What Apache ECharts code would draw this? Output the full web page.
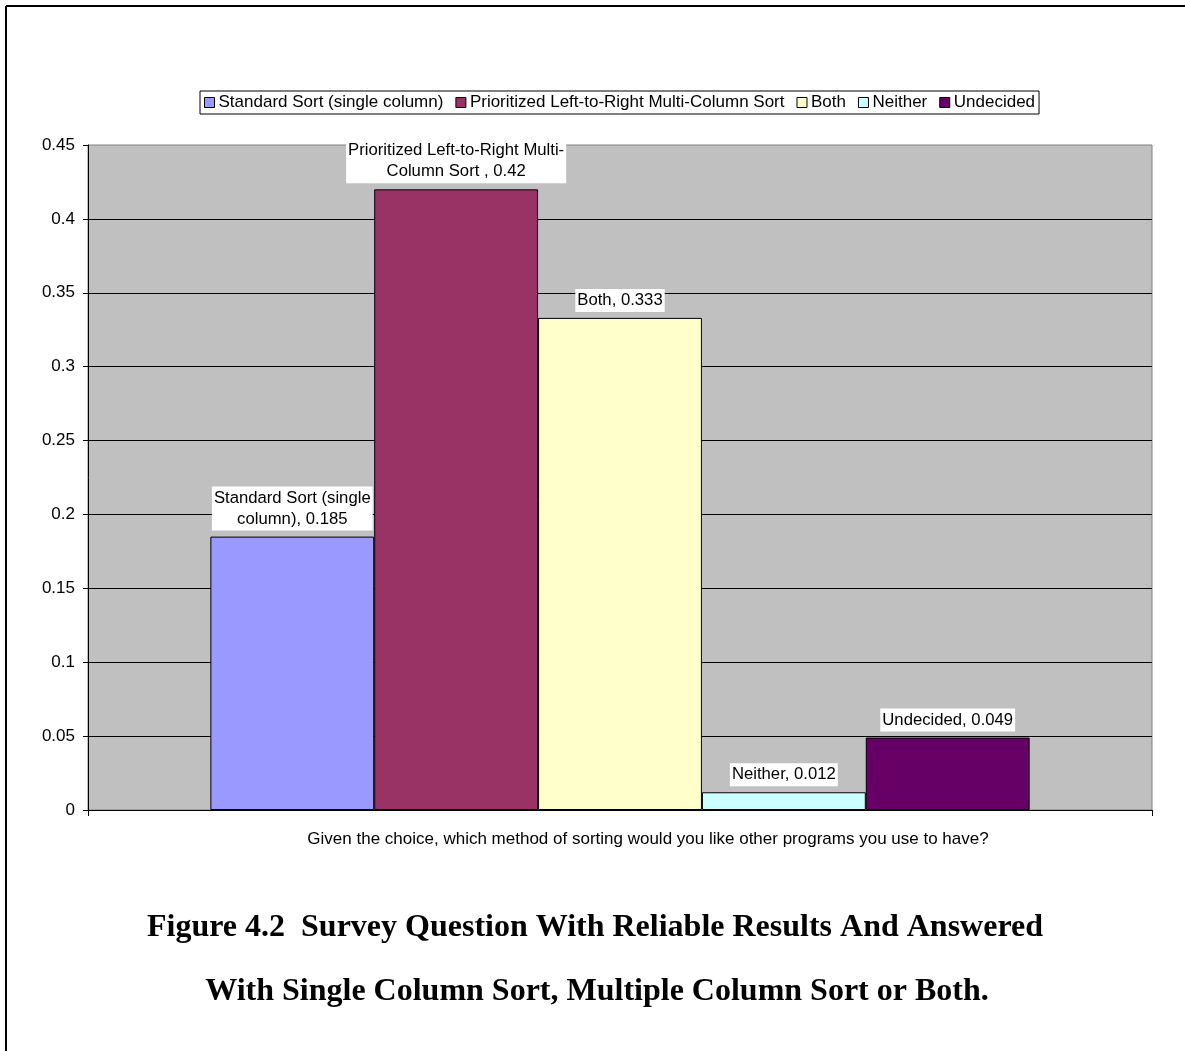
<!DOCTYPE html>
<html>
<head>
<meta charset="utf-8">
<style>
  html, body { margin: 0; padding: 0; background: #fff; }
  #chart { width: 1185px; height: 1051px; }
</style>
<script src="https://cdn.jsdelivr.net/npm/echarts@6/dist/echarts.min.js"></script>
</head>
<body>
<div id="chart"></div>
<script>
// Survey answers: share of respondents for each preferred sorting method
const seriesNames = [
  'Standard Sort (single column)',
  'Prioritized Left-to-Right Multi-Column Sort',
  'Both',
  'Neither',
  'Undecided'
];
const labelNames = [
  'Standard Sort (single\ncolumn)',
  'Prioritized Left-to-Right Multi-\nColumn Sort ',
  'Both',
  'Neither',
  'Undecided'
];
const values = [0.185, 0.42, 0.333, 0.012, 0.049];
const categories = [''];
const axisTitle = 'Given the choice, which method of sorting would you like other programs you use to have?';
const captionLines = [
  'Figure 4.2  Survey Question With Reliable Results And Answered',
  'With Single Column Sort, Multiple Column Sort or Both.'
];

const barColors = ['#9999FF', '#993366', '#FFFFCC', '#CCFFFF', '#660066'];
const sans = '"Liberation Sans", Arial, sans-serif';
const serif = '"Liberation Serif", "Times New Roman", serif';

const chart = echarts.init(document.getElementById('chart'), null, { renderer: 'canvas' });

const series = seriesNames.map((name, i) => ({
  name: name,
  type: 'bar',
  data: [values[i]],
  barGap: '0%',
  barCategoryGap: '23%',
  itemStyle: { color: barColors[i], borderColor: '#000', borderWidth: 1 },
  label: {
    show: true,
    position: 'top',
    distance: 6,
    formatter: (p) => labelNames[i] + ', ' + p.value,
    color: '#000',
    fontFamily: sans,
    fontSize: 16.7,
    lineHeight: 21,
    backgroundColor: '#fff',
    padding: [1, 2, 1, 2],
    align: 'center'
  },
  emphasis: { disabled: true }
}));

chart.setOption({
  animation: false,
  backgroundColor: '#fff',
  legend: {
    top: 91,
    left: 200,
    data: seriesNames,
    icon: 'rect',
    itemWidth: 10,
    itemHeight: 10,
    itemGap: 12,
    padding: [3, 4, 3, 4],
    borderColor: '#000',
    borderWidth: 1,
    itemStyle: { borderColor: '#000', borderWidth: 1 },
    textStyle: { fontFamily: sans, fontSize: 17, color: '#000', padding: [0, 0, 0, -1] },
    selectedMode: false
  },
  grid: {
    left: 88,
    right: 33,
    top: 145,
    bottom: 241,
    show: true,
    backgroundColor: '#C0C0C0',
    borderColor: '#808080',
    borderWidth: 1
  },
  xAxis: {
    type: 'category',
    data: categories,
    name: axisTitle,
    nameLocation: 'middle',
    nameGap: 21,
    nameTextStyle: { fontFamily: sans, fontSize: 17, color: '#000', padding: [0, 0, 0, 56] },
    axisLine: { show: true, lineStyle: { color: '#000', width: 1 } },
    axisTick: { show: true, length: 6, lineStyle: { color: '#000' } },
    axisLabel: { show: false },
    splitLine: { show: false }
  },
  yAxis: {
    type: 'value',
    min: 0,
    max: 0.45,
    interval: 0.05,
    axisLine: { show: true, lineStyle: { color: '#000', width: 1 } },
    axisTick: { show: true, length: 5, lineStyle: { color: '#000' } },
    axisLabel: { margin: 13, fontFamily: sans, fontSize: 17, color: '#000' },
    splitLine: { show: true, showMaxLine: false, lineStyle: { color: '#000', width: 1 } }
  },
  series: series,
  graphic: [
    { type: 'line', shape: { x1: 6, y1: 6, x2: 1185, y2: 6 }, style: { stroke: '#000', lineWidth: 2 }, silent: true },
    { type: 'line', shape: { x1: 6, y1: 6, x2: 6, y2: 1051 }, style: { stroke: '#000', lineWidth: 2 }, silent: true },
    {
      type: 'text', x: 595, y: 928,
      style: { text: captionLines[0], font: 'bold 32px ' + serif, fill: '#000', textAlign: 'center', textVerticalAlign: 'middle' }
    },
    {
      type: 'text', x: 597, y: 992,
      style: { text: captionLines[1], font: 'bold 32px ' + serif, fill: '#000', textAlign: 'center', textVerticalAlign: 'middle' }
    }
  ]
});
</script>
</body>
</html>
